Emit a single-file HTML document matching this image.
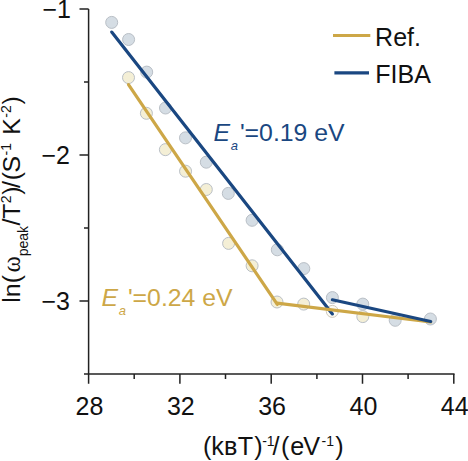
<!DOCTYPE html>
<html><head><meta charset="utf-8">
<style>
html,body{margin:0;padding:0;background:#fff;overflow:hidden;}
svg{display:block;font-family:"Liberation Sans",sans-serif;}
</style></head>
<body>
<svg width="468" height="461" viewBox="0 0 468 461">
<rect width="468" height="461" fill="#fff"/>
<!-- points -->
<g stroke="#b9bfc6" stroke-width="1">
<g fill="#d5dde4">
<circle cx="111.7" cy="22.4" r="6"/>
<circle cx="128.6" cy="39.5" r="6"/>
<circle cx="146.7" cy="72.1" r="6"/>
<circle cx="165.5" cy="108" r="6"/>
<circle cx="185.5" cy="137.85" r="6"/>
<circle cx="206.3" cy="162.2" r="6"/>
<circle cx="228.3" cy="193.4" r="6"/>
<circle cx="252.1" cy="220.3" r="6"/>
<circle cx="277.3" cy="249.8" r="6"/>
<circle cx="303.8" cy="268.6" r="6"/>
<circle cx="332.4" cy="297.6" r="6"/>
<circle cx="362.8" cy="304.1" r="6"/>
<circle cx="395.2" cy="320.3" r="6"/>
<circle cx="430.4" cy="319" r="6"/>
</g>
<g fill="#f4efd6">
<circle cx="128.5" cy="77.6" r="6"/>
<circle cx="146.4" cy="113.3" r="6"/>
<circle cx="165.4" cy="149.65" r="6"/>
<circle cx="185.55" cy="171.2" r="6"/>
<circle cx="206.3" cy="189.5" r="6"/>
<circle cx="228.6" cy="243.4" r="6"/>
<circle cx="252.1" cy="265.8" r="6"/>
<circle cx="277" cy="302" r="6"/>
<circle cx="303.7" cy="304.1" r="6"/>
<circle cx="332.3" cy="311.4" r="6" fill="#fbfaf3" stroke="#cfc9bd"/>
<circle cx="362.8" cy="316.6" r="6"/>
</g>
</g>
<!-- lines -->
<g fill="none" stroke-width="3.2" stroke-linecap="round" stroke-linejoin="round">
<path d="M111.7 32.1 L332.4 313.9" stroke="#1a4781"/>
<path d="M128.5 84.6 L277.3 304.4" stroke="#cda747"/>
<path d="M276.9 303.2 L430.7 322" stroke="#cda747"/>
<path d="M332.4 299.8 L430.7 321.5" stroke="#1a4781"/>
</g>
<!-- axes -->
<g stroke="#222" stroke-width="1.5" fill="none">
<path d="M88.6 9 V374"/>
<path d="M84 374 H454.55"/>
<path d="M79.5 9 H88.6 M79.5 155 H88.6 M79.5 301 H88.6"/>
<path d="M84 82 H88.6 M84 228 H88.6"/>
<path d="M88.6 374 V383.8 M179.9 374 V383.8 M271.2 374 V383.8 M362.5 374 V383.8 M453.8 374 V383.8"/>
<path d="M134.2 374 V379 M225.5 374 V379 M316.9 374 V379 M408.1 374 V379"/>
</g>
<!-- tick labels -->
<g font-size="25" fill="#111">
<g text-anchor="end">
<text x="71" y="17.6">−1</text>
<text x="70" y="164">−2</text>
<text x="70" y="310">−3</text>
</g>
<g text-anchor="middle">
<text x="89.5" y="414.8">28</text>
<text x="180.8" y="414.8">32</text>
<text x="272.1" y="414.8">36</text>
<text x="363.4" y="414.8">40</text>
<text x="454.7" y="414.8">44</text>
</g>
</g>
<!-- axis labels -->
<text y="455.2" font-size="25.2" fill="#111"><tspan x="203 211.25 223.9 237.85 254.25">(kʙT)</tspan><tspan x="262.2" font-size="14" dy="-8.9">-1</tspan><tspan dy="8.9" x="272.4 280.9 290.2 303.3">/(eV</tspan><tspan x="321.5" font-size="14" dy="-8.9">-1</tspan><tspan x="335.3" dy="8.9">)</tspan></text>
<text transform="translate(19.8,302.65) rotate(-90)" font-size="24.8" fill="#111"><tspan x="0">ln(</tspan><tspan x="30.2" font-family="'Liberation Serif',serif">ω</tspan><tspan x="46.3" font-size="14" dy="8.5">peak</tspan><tspan x="77.1" dy="-8.5">/T</tspan><tspan x="99.3" font-size="14" dy="-8.9">2</tspan><tspan x="108 114.6 122.4 130.2" dy="8.9">)/(S</tspan><tspan x="147.2" font-size="14" dy="-8.9">-1 </tspan><tspan x="167.8" dy="8.9">K</tspan><tspan x="184.95" font-size="14" dy="-8.9">-2</tspan><tspan x="198.05" dy="8.9">)</tspan></text>
<!-- legend -->
<g stroke-width="3.1" stroke-linecap="butt">
<path d="M333 35.5 H370.3" stroke="#cda747"/>
<path d="M334.4 72.9 H369" stroke="#1a4781"/>
</g>
<text x="375.1" y="45.7" font-size="25" fill="#111">Ref.</text>
<text x="375.3" y="83.4" font-size="25" fill="#111">FIBA</text>
<!-- annotations -->
<text y="141" font-size="24.8" fill="#1a4781"><tspan x="213.5" font-style="italic">E</tspan><tspan x="230.8" font-style="italic" font-size="13" dy="8.6">a</tspan><tspan x="239.9" dy="-8.6">'=0.19 eV</tspan></text>
<text y="305.9" font-size="24.8" fill="#cda747"><tspan x="101.5" font-style="italic">E</tspan><tspan x="118.8" font-style="italic" font-size="13" dy="8.6">a</tspan><tspan x="127.9" dy="-8.6">'=0.24 eV</tspan></text>
</svg>
</body></html>
